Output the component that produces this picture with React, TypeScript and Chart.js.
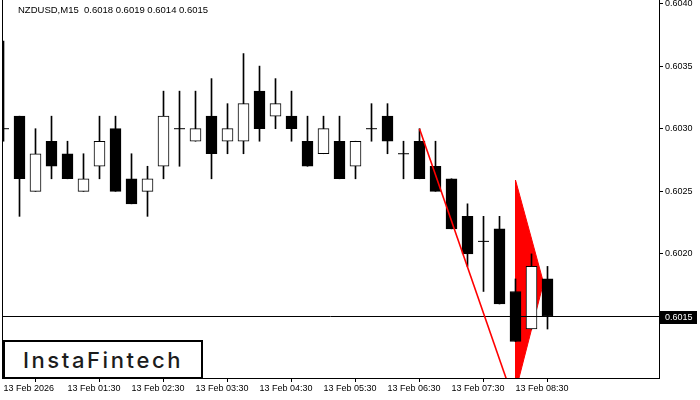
import React, { useEffect, useRef } from 'react';
import { Chart, registerables } from 'chart.js';

Chart.register(...registerables);

const symbolTitle = 'NZDUSD,M15  0.6018 0.6019 0.6014 0.6015';

const openP = [
  0.6030, 0.6031, 0.6025, 0.6029, 0.6028, 0.6025, 0.6027, 0.6030, 0.6026, 0.6025,
  0.6027, 0.6030, 0.6029, 0.6031, 0.6029, 0.6029, 0.6033, 0.6031, 0.6031, 0.6029,
  0.6028, 0.6029, 0.6027, 0.6030, 0.6031, 0.6028, 0.6029, 0.6027, 0.6026, 0.6023,
  0.6021, 0.6022, 0.6017, 0.6014, 0.6018,
];
const highP = [
  0.6037, 0.6031, 0.6030, 0.6031, 0.6029, 0.6028, 0.6031, 0.6031, 0.6028, 0.6027,
  0.6033, 0.6033, 0.6033, 0.6034, 0.6032, 0.6036, 0.6035, 0.6034, 0.6033, 0.6031,
  0.6031, 0.6031, 0.6029, 0.6032, 0.6032, 0.6029, 0.6030, 0.6029, 0.6026, 0.6024,
  0.6023, 0.6023, 0.6018, 0.6020, 0.6019,
];
const lowP = [
  0.6029, 0.6023, 0.6025, 0.6026, 0.6026, 0.6025, 0.6026, 0.6025, 0.6024, 0.6023,
  0.6026, 0.6027, 0.6029, 0.6026, 0.6028, 0.6028, 0.6029, 0.6030, 0.6029, 0.6027,
  0.6028, 0.6026, 0.6026, 0.6029, 0.6028, 0.6026, 0.6026, 0.6025, 0.6022, 0.6019,
  0.6017, 0.6016, 0.6013, 0.6014, 0.6014,
];
const closeP = [
  0.6030, 0.6026, 0.6028, 0.6027, 0.6026, 0.6026, 0.6029, 0.6025, 0.6024, 0.6026,
  0.6031, 0.6030, 0.6030, 0.6028, 0.6030, 0.6032, 0.6030, 0.6032, 0.6030, 0.6027,
  0.6030, 0.6026, 0.6029, 0.6030, 0.6029, 0.6028, 0.6026, 0.6025, 0.6022, 0.6020,
  0.6021, 0.6016, 0.6013, 0.6019, 0.6015,
];

const xTickIdx = [0, 4, 8, 12, 16, 20, 24, 28, 32];
const xTickLabels = [
  '13 Feb 2026', '13 Feb 01:30', '13 Feb 02:30', '13 Feb 03:30', '13 Feb 04:30',
  '13 Feb 05:30', '13 Feb 06:30', '13 Feb 07:30', '13 Feb 08:30',
];
const yTickVals = [0.6020, 0.6025, 0.6030, 0.6035, 0.6040];

const trendX = [26, 32];
const trendY = [0.6030, 0.60079];
const flagX = [32, 33.75, 32, 32];
const flagY = [0.60259, 0.60177, 0.6009, 0.60259];
const bidPrice = 0.6015;
const logoText = 'InstaFintech';

const X_MIN = -0.09375;
const X_MAX = 40.96875;
const Y_MIN = 0.6010088;
const Y_MAX = 0.604028;
const FONT = '"Liberation Sans", Arial, sans-serif';

export default function App() {
  const ref = useRef<HTMLCanvasElement>(null);

  useEffect(() => {
    document.body.style.margin = '0';
    const idx = openP.map((_, i) => i);
    const wickData = idx.map((i) => ({ x: i, y: [lowP[i], highP[i]] }));
    const bodyIdx = idx.filter((i) => openP[i] !== closeP[i]);
    const bodyData = bodyIdx.map((i) => ({
      x: i,
      y: [Math.min(openP[i], closeP[i]), Math.max(openP[i], closeP[i])],
    }));
    const bodyFill = bodyIdx.map((i) => (closeP[i] > openP[i] ? '#ffffff' : '#000000'));
    const dojiData = idx.filter((i) => openP[i] === closeP[i]).map((i) => ({ x: i, y: closeP[i] }));
    const trendData = trendX.map((x, k) => ({ x, y: trendY[k] }));
    const flagData = flagX.map((x, k) => ({ x, y: flagY[k] }));
    const bidData = [{ x: X_MIN, y: bidPrice }, { x: X_MAX, y: bidPrice }];

    const overlay = {
      id: 'overlay',
      afterDraw(chart: any) {
        const ctx = chart.ctx;
        const { left, top, bottom, right } = chart.chartArea;
        ctx.save();
        ctx.strokeStyle = '#000';
        ctx.lineWidth = 1;
        ctx.beginPath();
        ctx.moveTo(left + 0.5, top);
        ctx.lineTo(left + 0.5, bottom);
        ctx.stroke();
        ctx.fillStyle = '#000';
        ctx.font = '9.5px ' + FONT;
        ctx.textBaseline = 'middle';
        ctx.textAlign = 'left';
        ctx.fillText(symbolTitle, 18, 10);
        const y = chart.scales.y.getPixelForValue(bidPrice);
        ctx.font = '9px ' + FONT;
        ctx.fillRect(right + 1, Math.round(y) - 6, 37, 13);
        ctx.fillStyle = '#fff';
        ctx.fillText(bidPrice.toFixed(4), right + 6, Math.round(y) + 0.5);
        ctx.restore();
      },
    };

    const chart = new Chart(ref.current as HTMLCanvasElement, {
      type: 'bar',
      data: {
        datasets: [
          {
            type: 'line',
            data: trendData as any,
            borderColor: '#ff0000',
            borderWidth: 1.6,
            pointRadius: 0,
            tension: 0,
            fill: false,
            order: 0,
          } as any,
          {
            type: 'line',
            data: bidData as any,
            borderColor: '#000000',
            borderWidth: 1,
            pointRadius: 0,
            fill: false,
            order: 1,
          } as any,
          {
            type: 'line',
            data: dojiData as any,
            showLine: false,
            pointStyle: 'line',
            pointRadius: 5.5,
            pointBorderColor: '#000',
            pointBorderWidth: 1,
            order: 2,
          } as any,
          {
            type: 'bar',
            data: bodyData as any,
            backgroundColor: bodyFill,
            borderColor: '#000000',
            borderWidth: 1,
            borderSkipped: false,
            barThickness: 11,
            grouped: false,
            order: 3,
          } as any,
          {
            type: 'bar',
            data: wickData as any,
            backgroundColor: '#000000',
            borderWidth: 0,
            barThickness: 1,
            grouped: false,
            order: 4,
          } as any,
          {
            type: 'line',
            data: flagData as any,
            borderColor: '#ff0000',
            backgroundColor: '#ff0000',
            borderWidth: 1,
            pointRadius: 0,
            tension: 0,
            fill: 'shape',
            order: 5,
          } as any,
        ],
      },
      options: {
        animation: false,
        responsive: false,
        events: [],
        layout: { autoPadding: false, padding: { left: 2, top: 0, right: 0, bottom: 0 } },
        plugins: { legend: { display: false }, tooltip: { enabled: false } },
        scales: {
          x: {
            type: 'linear',
            min: X_MIN,
            max: X_MAX,
            offset: false,
            grid: { display: true, drawOnChartArea: false, drawTicks: true, tickLength: 4, color: '#000' },
            border: { display: true, color: '#000', width: 1 },
            ticks: {
              autoSkip: false,
              maxRotation: 0,
              minRotation: 0,
              align: 'start',
              padding: 1,
              color: '#000',
              font: { family: FONT, size: 9 },
              callback: (_v: any, i: number) => xTickLabels[i],
            },
            afterBuildTicks: (s: any) => {
              s.ticks = xTickIdx.map((v) => ({ value: v }));
            },
            afterFit: (s: any) => {
              s.height = 22;
              s.paddingLeft = 0;
              s.paddingRight = 0;
              s.paddingTop = 0;
              s.paddingBottom = 0;
            },
          } as any,
          y: {
            type: 'linear',
            position: 'right',
            min: Y_MIN,
            max: Y_MAX,
            grid: { display: true, drawOnChartArea: false, drawTicks: true, tickLength: 4, color: '#000' },
            border: { display: true, color: '#000', width: 1 },
            ticks: {
              padding: 2,
              color: '#000',
              font: { family: FONT, size: 9 },
              callback: (v: any) => Number(v).toFixed(4),
            },
            afterBuildTicks: (s: any) => {
              s.ticks = yTickVals.map((v) => ({ value: v }));
            },
            afterFit: (s: any) => {
              s.width = 41;
              s.paddingLeft = 0;
              s.paddingRight = 0;
              s.paddingTop = 0;
              s.paddingBottom = 0;
            },
          } as any,
        },
      },
      plugins: [overlay],
    });
    return () => chart.destroy();
  }, []);

  return (
    <div style={{ position: 'relative', width: 700, height: 400, background: '#fff' }}>
      <canvas ref={ref} width={700} height={400} style={{ display: 'block', width: 700, height: 400 }} />
      <div
        style={{
          position: 'absolute',
          left: 3,
          top: 340,
          width: 200,
          height: 39,
          boxSizing: 'border-box',
          border: '2px solid #000',
          background: '#fff',
          display: 'flex',
          alignItems: 'center',
          justifyContent: 'center',
          fontFamily: 'Inter, "Noto Sans", sans-serif',
          fontWeight: 500,
          fontSize: 22,
          letterSpacing: '2.6px',
          color: '#1c1c1c',
        }}
      >
        {logoText}
      </div>
    </div>
  );
}
